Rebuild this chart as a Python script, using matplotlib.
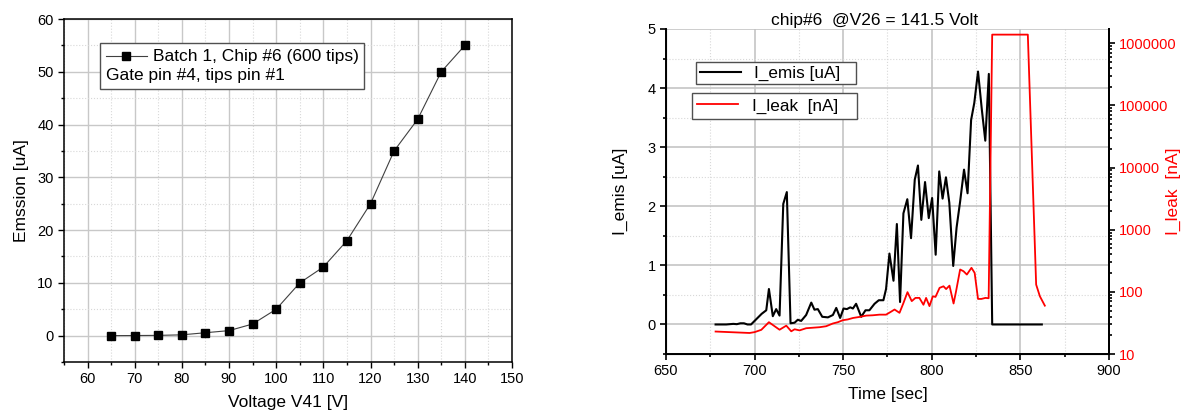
import matplotlib
matplotlib.use("Agg")
import matplotlib.pyplot as plt
from matplotlib import ticker
from matplotlib.lines import Line2D
from matplotlib.offsetbox import AnchoredOffsetbox, TextArea, DrawingArea, HPacker, VPacker

plt.rcParams['font.family'] = ['Liberation Sans', 'DejaVu Sans']

# left panel: emission vs gate voltage
voltage = [65, 70, 75, 80, 85, 90, 95, 100, 105, 110, 115, 120, 125, 130, 135, 140]
emission = [0, 0.02, 0.05, 0.15, 0.55, 0.95, 2.2, 5, 10, 13, 18, 25, 35, 41, 50, 55]

# right panel: emission current vs time
t_emis = [678, 680, 682, 684, 686, 688, 690, 692, 694, 696, 698, 700, 702, 704,
          706.6, 708.1, 710.3, 712.2, 714.1, 716.2, 718.2, 720.3, 722.6, 724.4,
          726.3, 729.1, 732, 733.8, 735.7, 738.2, 741.4, 744.2, 746.1, 748.3,
          750.2, 752.1, 754, 755.5, 757.3, 760.2, 762.6, 764.8, 767.7, 770.1,
          772.7, 774.2, 776.1, 778.4, 780.3, 782.1, 784, 786.2, 788.3, 790.4,
          792.2, 794.1, 796.2, 798.3, 800.2, 802.2, 804.2, 806.1, 808, 809.9,
          812.1, 814, 816, 818.2, 820.2, 822.2, 824, 826.1, 828.2, 830.2, 832.2,
          834.1, 838, 842, 846, 850, 854, 858, 862.1]
emis = [0, 0, 0, 0, 0.005, 0.01, 0.005, 0.02, 0.02, 0.0, 0.0, 0.06, 0.12, 0.18,
        0.24, 0.6, 0.14, 0.26, 0.15, 2.04, 2.24, 0.02, 0.03, 0.08,
        0.06, 0.16, 0.37, 0.25, 0.26, 0.13, 0.12, 0.16, 0.28, 0.11,
        0.27, 0.26, 0.29, 0.27, 0.35, 0.13, 0.24, 0.24, 0.35, 0.41,
        0.41, 0.6, 1.2, 0.74, 1.7, 0.38, 1.88, 2.12, 1.46, 2.45,
        2.69, 1.77, 2.41, 1.80, 2.14, 1.18, 2.59, 2.13, 2.49, 2.06,
        0.99, 1.64, 2.08, 2.62, 2.22, 3.46, 3.75, 4.28, 3.65, 3.11, 4.24,
        0, 0, 0, 0, 0, 0, 0, 0]

# right panel: leakage current vs time (log axis)
t_leak = [678, 697.2, 700, 703.8, 708.1, 711.3, 714.1, 717.9, 720.7, 722.6, 725.4,
          729.1, 732.9, 736.7, 740.4, 744.2, 747, 749.8, 752.6, 755.5, 759.2,
          763, 766.7, 770.5, 774.2, 776.5, 779, 781.8, 784, 786.3, 788.7, 790.8,
          793, 795.3, 796.8, 798.7, 800.6, 802.1, 804.4, 806.6, 808.1, 810,
          812.3, 813.7, 816, 817.9, 819.8, 822.4, 824.2, 826.1, 828, 830.3,
          832.1, 834.1, 854.2, 858.9, 861, 863.8]
leak = [23, 21.8, 22.5, 24.5, 32.5, 28, 24.6, 28.6, 23.2, 25, 24,
        26, 26.5, 27, 28, 31, 32.5, 35, 36, 38, 39.5,
        41.5, 42, 43, 43, 47, 52, 46, 66, 99, 71, 80,
        80, 62, 80, 59, 85, 83, 116, 123, 111, 126,
        65, 102, 229, 215, 190, 244, 202, 77, 77, 80,
        79, 1.38e6, 1.38e6, 131, 85, 60]

fig = plt.figure(figsize=(11.89, 4.19), dpi=100)

# ---------------- left panel ----------------
ax1 = fig.add_axes([0.0538, 0.136, 0.3768, 0.8186])
ax1.plot(voltage, emission, color='#404040', lw=0.8, marker='s', ms=5.5,
         mfc='black', mec='black', zorder=3)
ax1.set_xlim(55, 150)
ax1.set_ylim(-5, 60)
ax1.xaxis.set_major_locator(ticker.MultipleLocator(10))
ax1.xaxis.set_minor_locator(ticker.MultipleLocator(5))
ax1.yaxis.set_major_locator(ticker.MultipleLocator(10))
ax1.yaxis.set_minor_locator(ticker.MultipleLocator(5))
ax1.grid(which='major', color='#c8c8c8', lw=1)
ax1.grid(which='minor', color='#d8d8d8', lw=0.8, ls=':')
ax1.set_axisbelow(True)
ax1.tick_params(which='both', direction='out', labelsize=10.5, width=1)
ax1.tick_params(which='major', length=4)
ax1.tick_params(which='minor', length=2.5)
for s in ax1.spines.values():
    s.set_linewidth(1.1)
ax1.set_xlabel('Voltage V41 [V]', fontsize=12.5, labelpad=6)
ax1.set_ylabel('Emssion [uA]', fontsize=12.5, labelpad=6)

da = DrawingArea(30, 10, 0, 0)
da.add_artist(Line2D([0, 30], [5, 5], color='#404040', lw=0.8))
da.add_artist(Line2D([15], [5], marker='s', ms=5.5, color='black', lw=0))
row1 = HPacker(children=[da, TextArea('Batch 1, Chip #6 (600 tips)',
                                      textprops=dict(fontsize=12.5))],
               align='center', pad=0, sep=4)
row2 = TextArea('Gate pin #4, tips pin #1', textprops=dict(fontsize=12.5))
box = VPacker(children=[row1, row2], align='left', pad=0, sep=3)
box = HPacker(children=[box], pad=1, sep=0)
anch = AnchoredOffsetbox(loc='upper left', child=box, pad=0.3, frameon=True,
                         bbox_to_anchor=(0.0806, 0.929),
                         bbox_transform=ax1.transAxes, borderpad=0)
anch.patch.set_edgecolor('#505050')
anch.patch.set_linewidth(1)
ax1.add_artist(anch)

# ---------------- right panel ----------------
ax2 = fig.add_axes([0.5601, 0.1551, 0.3726, 0.7757])
l1, = ax2.plot(t_emis, emis, color='black', lw=1.5, label='I_emis [uA]')
ax2.set_xlim(650, 900)
ax2.set_ylim(-0.5, 5)
ax2.xaxis.set_major_locator(ticker.MultipleLocator(50))
ax2.xaxis.set_minor_locator(ticker.MultipleLocator(25))
ax2.yaxis.set_major_locator(ticker.MultipleLocator(1))
ax2.yaxis.set_minor_locator(ticker.MultipleLocator(0.5))
ax2.grid(which='major', color='#c0c0c0', lw=1.1)
ax2.grid(which='minor', color='#d8d8d8', lw=0.8, ls=':')
ax2.set_axisbelow(True)
ax2.tick_params(which='both', direction='out', labelsize=10.5, width=1.2)
ax2.tick_params(which='major', length=4)
ax2.tick_params(which='minor', length=2.5)
ax2.spines['top'].set_visible(False)
for s in ('left', 'bottom', 'right'):
    ax2.spines[s].set_linewidth(1.4)
ax2.set_xlabel('Time [sec]', fontsize=12.5, labelpad=6)
ax2.set_ylabel('I_emis [uA]', fontsize=12.5, labelpad=14)
ax2.set_title('chip#6  @V26 = 141.5 Volt', fontsize=12.5, x=0.47, pad=3)

ax3 = ax2.twinx()
l2, = ax3.plot(t_leak, leak, color='#ff0000', lw=1.3, label='I_leak  [nA]')
ax3.set_yscale('log')
ax3.set_ylim(10, 1.7e6)
ax3.yaxis.set_major_locator(ticker.LogLocator(base=10, numticks=10))
ax3.yaxis.set_minor_locator(ticker.LogLocator(base=10, subs=range(2, 10), numticks=10))
ax3.yaxis.set_major_formatter(ticker.FuncFormatter(lambda v, p: f'{v:.0f}'))
ax3.yaxis.set_minor_formatter(ticker.NullFormatter())
ax3.tick_params(axis='y', which='both', direction='out', labelsize=10.5,
                labelcolor='#ff0000', width=1.2, pad=3)
ax3.tick_params(axis='y', which='major', length=4)
ax3.tick_params(axis='y', which='minor', length=2.5)
ax3.spines['top'].set_visible(False)
ax3.spines['right'].set_linewidth(1.4)
ax3.set_ylabel('I_leak  [nA]', fontsize=12.5, color='#ff0000')
ax3.yaxis.set_label_coords(1.128, 0.5)

leg1 = ax2.legend(handles=[l1], loc='upper left', mode='expand',
                  bbox_to_anchor=(0.068, 0.833, 0.361, 0.0645),
                  fancybox=False, edgecolor='#505050', framealpha=1,
                  borderaxespad=0, borderpad=0.2, handlelength=2.4,
                  fontsize=12.3)
leg1.get_frame().set_linewidth(1)
leg2 = ax3.legend(handles=[l2], loc='upper left', mode='expand',
                  bbox_to_anchor=(0.059, 0.7285, 0.372, 0.0735),
                  fancybox=False, edgecolor='#505050', framealpha=1,
                  borderaxespad=0, borderpad=0.3, handlelength=2.4,
                  fontsize=12.3)
leg2.get_frame().set_linewidth(1)

fig.savefig('out.png', dpi=100)
